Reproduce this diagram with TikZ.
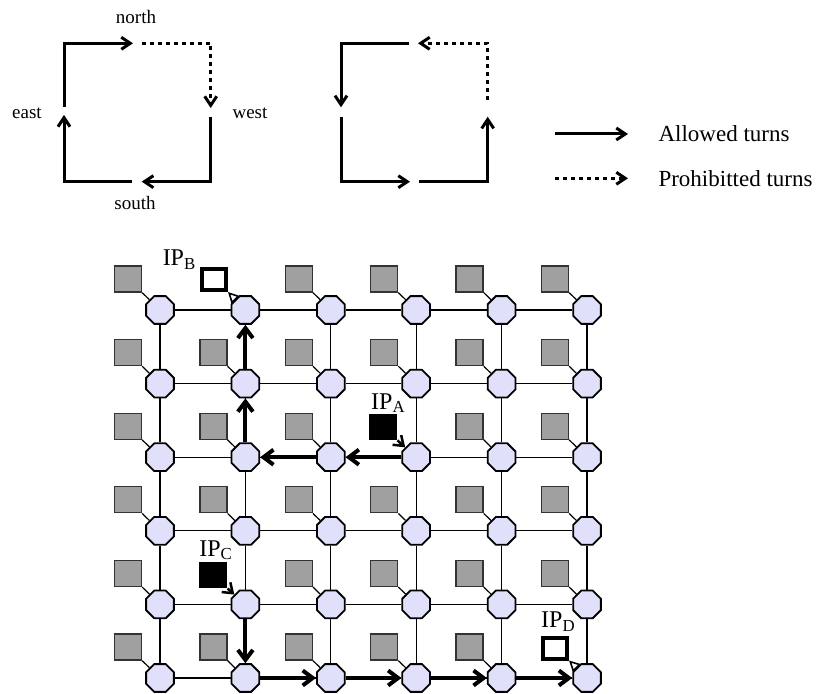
\documentclass[tikz,border=0pt]{standalone}
\usepackage{fontspec}
\setmainfont{Liberation Serif}
\usetikzlibrary{arrows.meta,shapes.geometric,positioning}
\definecolor{routerfill}{RGB}{224,224,250}
\definecolor{corefill}{RGB}{160,160,160}
\begin{document}
\begin{tikzpicture}[x=1pt,y=1pt,
	router/.style={regular polygon,regular polygon sides=8,minimum size=30pt,inner sep=0pt,draw=black,line width=1.8pt,fill=routerfill},
	core/.style={rectangle,minimum width=27pt,minimum height=26pt,inner sep=0pt,draw=black!80,line width=1.3pt,fill=corefill},
	ipfree/.style={rectangle,minimum width=24pt,minimum height=21pt,inner sep=0pt,draw=black,line width=4pt,fill=white},
	ipbusy/.style={rectangle,minimum width=28pt,minimum height=26pt,inner sep=0pt,fill=black},
	iplabel/.style={font=\fontsize{24}{26}\selectfont,inner sep=1pt},
	link/.style={line width=1.2pt},
	turn/.style={line width=3pt,-{Straight Barb[length=9pt,width=12pt]}},
	noturn/.style={turn,dash pattern=on 4pt off 4pt},
	route/.style={line width=4pt,-{Straight Barb[length=10pt,width=15pt]}},
	inject/.style={line width=2.5pt,-{Straight Barb[length=9pt,width=13pt]}},
	eject/.style={line width=1.6pt,-{Triangle[open,length=11pt,width=11pt]}},
	dir/.style={font=\fontsize{19}{22}\selectfont},
	legend/.style={font=\fontsize{23}{26}\selectfont,anchor=west}]
	\useasboundingbox (0,0) rectangle (821,693);

	% west-first turns
	\draw[turn] (64,586) -- (64,649.7) -- (133,649.7);
	\draw[noturn] (141.7,649.7) -- (210.7,649.7) -- (210.7,585);
	\draw[turn] (210.7,576.3) -- (210.7,511.3) -- (141.7,511.3);
	\draw[turn] (131.7,511.3) -- (64,511.3) -- (64,578);
	\node[dir] (n) at (136,676) {north};
	\node[dir] (e) at (27,580) {east};
	\node[dir] (w) at (250,580) {west};
	\node[dir] (s) at (135,490) {south};

	\draw[turn] (409,649.7) -- (341,649.7) -- (341,585.7);
	\draw[turn] (341,576.3) -- (341,511.3) -- (410,511.3);
	\draw[turn] (419,511.3) -- (487.7,511.3) -- (487.7,576.3);
	\draw[noturn] (487.7,593) -- (487.7,649.7) -- (418,649.7);

	\draw[turn] (555,559) -- (628,559);
	\draw[noturn] (555,514.7) -- (628,514.7);
	\node[legend] (ok) at (655,559) {Allowed turns};
	\node[legend] (no) at (655,514.7) {Prohibitted turns};

	% 6x6 mesh
	\foreach \i in {1,...,6}
		\foreach \j in {1,...,6}
			\node[router] (r-\i-\j) at ({160+85.4*(\i-1)},{383-73.6*(\j-1)}) {};
	\foreach \i [evaluate=\i as \n using int(\i+1)] in {1,...,5}
		\foreach \j in {1,...,6} {
			\draw[link] (r-\i-\j) -- (r-\n-\j);
			\draw[link] (r-\j-\i) -- (r-\j-\n);
		}
	\foreach \i in {1,...,6}
		\foreach \j in {1,...,6} {
			\pgfmathtruncatemacro\isip{(\i==2&&\j==1)||(\i==4&&\j==3)||(\i==2&&\j==5)||(\i==6&&\j==6)}
			\ifnum\isip=0
				\node[core] (c-\i-\j) at ([shift={(-32,31)}]r-\i-\j) {};
				\draw[link] (c-\i-\j.south east) -- (r-\i-\j);
			\fi
		}

	% sources and sinks
	\node[ipbusy] (ipA) at ([shift={(-33,30)}]r-4-3) {};
	\node[ipfree] (ipB) at ([shift={(-31.4,30.5)}]r-2-1) {};
	\node[ipbusy] (ipC) at ([shift={(-32,29)}]r-2-5) {};
	\node[ipfree] (ipD) at ([shift={(-32,30)}]r-6-6) {};
	\node[iplabel,anchor=south west] (lA) at ([xshift=1pt]ipA.north west) {IP\textsubscript{A}};
	\node[iplabel,anchor=base east] (lB) at ([shift={(-3,1)}]ipB.north west) {IP\textsubscript{B}};
	\node[iplabel,anchor=south west] (lC) at ([shift={(-1,1)}]ipC.north west) {IP\textsubscript{C}};
	\node[iplabel,anchor=south west] (lD) at ([shift={(-1,3)}]ipD.north west) {IP\textsubscript{D}};

	% routes A->B and C->D
	\draw[inject] (ipA.south east) -- (r-4-3);
	\draw[route] (r-4-3) -- (r-3-3);
	\draw[route] (r-3-3) -- (r-2-3);
	\draw[route] (r-2-3) -- (r-2-2);
	\draw[route] (r-2-2) -- (r-2-1);
	\draw[eject] (r-2-1) -- (ipB.south east);

	\draw[inject] (ipC.south east) -- (r-2-5);
	\draw[route] (r-2-5) -- (r-2-6);
	\foreach \i [evaluate=\i as \n using int(\i+1)] in {2,...,5}
		\draw[route] (r-\i-6) -- (r-\n-6);
	\draw[eject] (r-6-6) -- (ipD.south east);
\end{tikzpicture}
\end{document}
